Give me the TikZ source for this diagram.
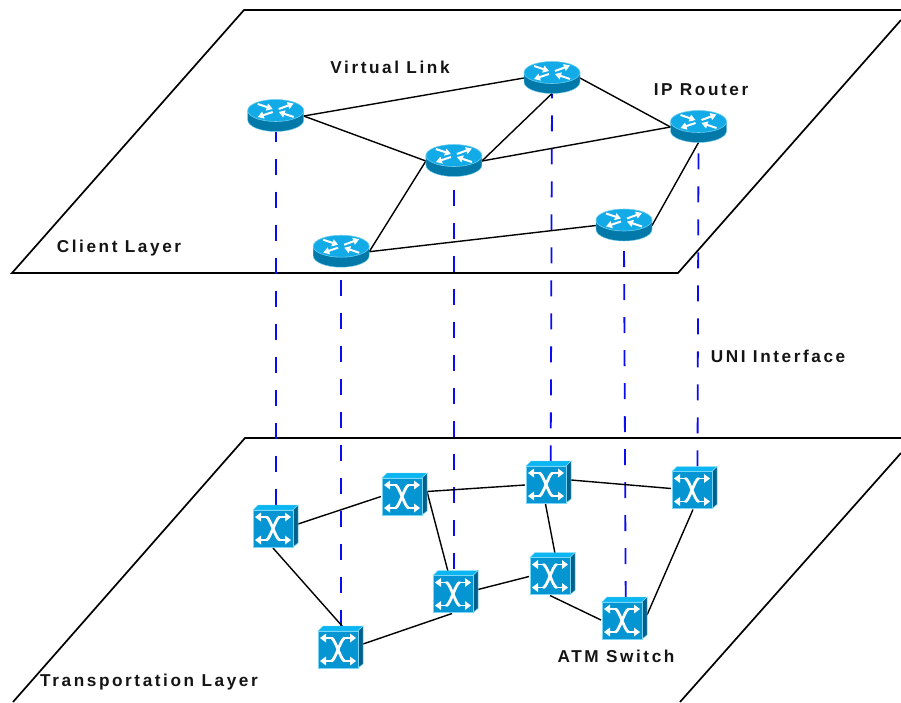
\documentclass[tikz,border=0pt]{standalone}
\usepackage{fontspec}
\setmainfont{Liberation Sans}
\newfontfamily\lbl[LetterSpace=15]{Liberation Sans}
\usetikzlibrary{arrows.meta}
\definecolor{rtop}{HTML}{12ABE8}
\definecolor{rside}{HTML}{0379AA}
\definecolor{redge}{HTML}{6CCDEE}
\definecolor{sfront}{HTML}{0595D2}
\definecolor{stop}{HTML}{0CB6F2}
\definecolor{sside}{HTML}{035F8C}
\definecolor{sedge}{HTML}{7AD6F4}
\definecolor{unicol}{HTML}{0A0AF5}
\tikzset{
 x=1pt,y=-1pt,
 plane/.style={line width=1.7pt,black},
 link/.style={line width=1.4pt,black},
 uni/.style={line width=1.8pt,unicol,dash pattern=on 16pt off 17pt},
 lab/.style={font=\fontsize{17.2}{19}\selectfont\lbl\bfseries,inner sep=0pt,anchor=center,text=black!92},
 routernode/.style={inner sep=0pt,outer sep=0pt,minimum width=56pt,minimum height=31pt},
 switchnode/.style={inner sep=0pt,outer sep=0pt,minimum width=46pt,minimum height=42pt},
 rarrow/.style={white,line width=2pt,-{Triangle[width=7pt,length=6pt]}},
 glyph/.style={white,line width=1.6pt},
 glyphx/.style={white,line width=2.8pt,line cap=round}
}
\newcommand{\routerdraw}[1]{%
 \begin{scope}[shift={(#1)}]
  \path[fill=rside,draw=redge,line width=.4pt] (-28,-5) -- (-28,4) arc[x radius=28,y radius=11.5,start angle=180,end angle=0] -- (28,-5) -- cycle;
  \path[fill=rtop,draw=redge,line width=.6pt] (0,-5.5) ellipse[x radius=28,y radius=11];
  \draw[rarrow] (-18,-12) -- (-3,-7);
  \draw[rarrow] (3,-7) -- (18,-12.5);
  \draw[rarrow] (-3,-4) -- (-18,1);
  \draw[rarrow] (18,1) -- (3,-4);
 \end{scope}}
\newcommand{\switchdraw}[1]{%
 \begin{scope}[shift={(#1)}]
  \path[fill=stop,draw=sedge,line width=.4pt] (-22,-17) -- (-17,-22) -- (23,-22) -- (18,-17) -- cycle;
  \path[fill=sside,draw=sedge,line width=.5pt] (18,-17) -- (23,-22) -- (23,16) -- (18,20) -- cycle;
  \path[fill=sfront,draw=sedge,line width=.4pt] (-22,-17) rectangle (18,20);
  \begin{scope}[shift={(-2,1.5)}]
   \draw[glyph] (-14,-11.5) -- (-6.5,-11.5);
   \draw[glyph] (14,-11.5) -- (6.5,-11.5);
   \draw[glyph] (-14,11.5) -- (-6.5,11.5);
   \draw[glyph] (14,11.5) -- (6.5,11.5);
   \draw[glyphx] (-6.5,-11.5) .. controls (-3,-11) and (3,11) .. (6.5,11.5);
   \draw[glyphx] (6.5,-11.5) .. controls (3,-11) and (-3,11) .. (-6.5,11.5);
   \foreach \sx/\sy in {-1/-1,1/-1,-1/1,1/1}{
    \fill[white] (\sx*18,\sy*11.5) -- (\sx*12,\sy*11.5-4.5) -- (\sx*12,\sy*11.5+4.5) -- cycle;
   }
  \end{scope}
 \end{scope}}
\begin{document}
\begin{tikzpicture}
\useasboundingbox (0,0) rectangle (901,702);
\clip (0,0) rectangle (901,702);
% planes
\coordinate (pa) at (244,10);
\coordinate (pb) at (901,10);
\coordinate (pc) at (901,20);
\coordinate (pd) at (678,273);
\coordinate (pe) at (12,273);
\draw[plane] (pb) -- (pa) -- (pe) -- (pd) -- (pc);
\coordinate (qa) at (245,438);
\coordinate (qb) at (901,438);
\coordinate (qc) at (901,453);
\coordinate (qd) at (680,702);
\coordinate (qe) at (13,702);
\draw[plane] (qb) -- (qa) -- (qe);
\draw[plane] (qc) -- (qd);
% device anchors
\foreach \n/\x/\y in {r1/275.7/116,r2/552/78,r3/698.5/127,r4/453.9/161,r5/624/225.5,r6/341.2/251.7}
  \node[routernode] (\n) at (\x,\y) {};
\foreach \n/\x/\y in {s1/275/527,s2/404/495,s3/548/483,s4/694/488.5,s5/552/574.5,s6/455/592.5,s7/624/619,s8/340/648}
  \node[switchnode] (\n) at (\x,\y) {};
% UNI
\draw[uni,dash phase=6pt] (r1.south) -- (r1.south |- s1.north);
\draw[uni,dash phase=20.5pt] (r6.south) -- (r6.south |- s8.north);
\draw[uni,dash phase=19.5pt] (r4.south) -- (r4.south |- s6.north);
\draw[uni,dash phase=11.2pt] (r2.south) -- ([xshift=-1.3pt]r2.south |- s3.north);
\draw[uni,dash phase=22.8pt] (r5.south) -- ([xshift=1.7pt]r5.south |- s7.north);
\draw[uni,dash phase=22.2pt] (r3.south) -- ([xshift=-1pt]r3.south |- s4.north);
% virtual links
\draw[link] (r1.east) -- (r2.west);
\draw[link] (r1.east) -- (r4.west);
\draw[link] (r2.east) -- (r3.west);
\draw[link] (r2.south) -- (r4.east);
\draw[link] (r3.west) -- (r4.east);
\draw[link] (r3.south) -- (r5.east);
\draw[link] (r4.west) -- (r6.east);
\draw[link] (r5.west) -- (r6.east);
% transport links
\draw[link] ([yshift=3pt]s1.east) -- ([yshift=-1.5pt]s2.west);
\draw[link] ([yshift=3.5pt]s2.east) -- ([yshift=-2pt]s3.west);
\draw[link] ([yshift=3pt]s3.east) -- (s4.west);
\draw[link] ([yshift=3.5pt]s2.east) -- ([xshift=-7pt]s6.north);
\draw[link] ([xshift=-2.5pt]s3.south) -- ([xshift=3pt]s5.north);
\draw[link] ([xshift=-2pt]s1.south) -- ([xshift=3pt]s8.north);
\draw[link] ([yshift=4pt]s8.east) -- ([xshift=-3pt]s6.south);
\draw[link] ([yshift=3pt]s6.east) -- ([yshift=-2pt]s5.west);
\draw[link] ([xshift=-2pt]s5.south) -- ([yshift=-1pt]s7.west);
\draw[link] ([yshift=4pt]s7.east) -- ([xshift=-1pt]s4.south);
% devices
\foreach \n in {r1,r2,r3,r4,r5,r6} {\routerdraw{\n}}
\foreach \n in {s1,s2,s3,s4,s5,s6,s7,s8} {\switchdraw{\n}}
% labels
\node[lab] (t1) at (390,67.5) {Virtual Link};
\node[lab] (t2) at (701,89.5) {IP Router};
\node[lab] (t3) at (119,248.5) {Client Layer};
\node[lab] (t4) at (778,356) {UNI Interface};
\node[lab] (t5) at (616,656) {ATM Switch};
\node[lab] (t6) at (149,682.5) {Transportation Layer};
\end{tikzpicture}
\end{document}
